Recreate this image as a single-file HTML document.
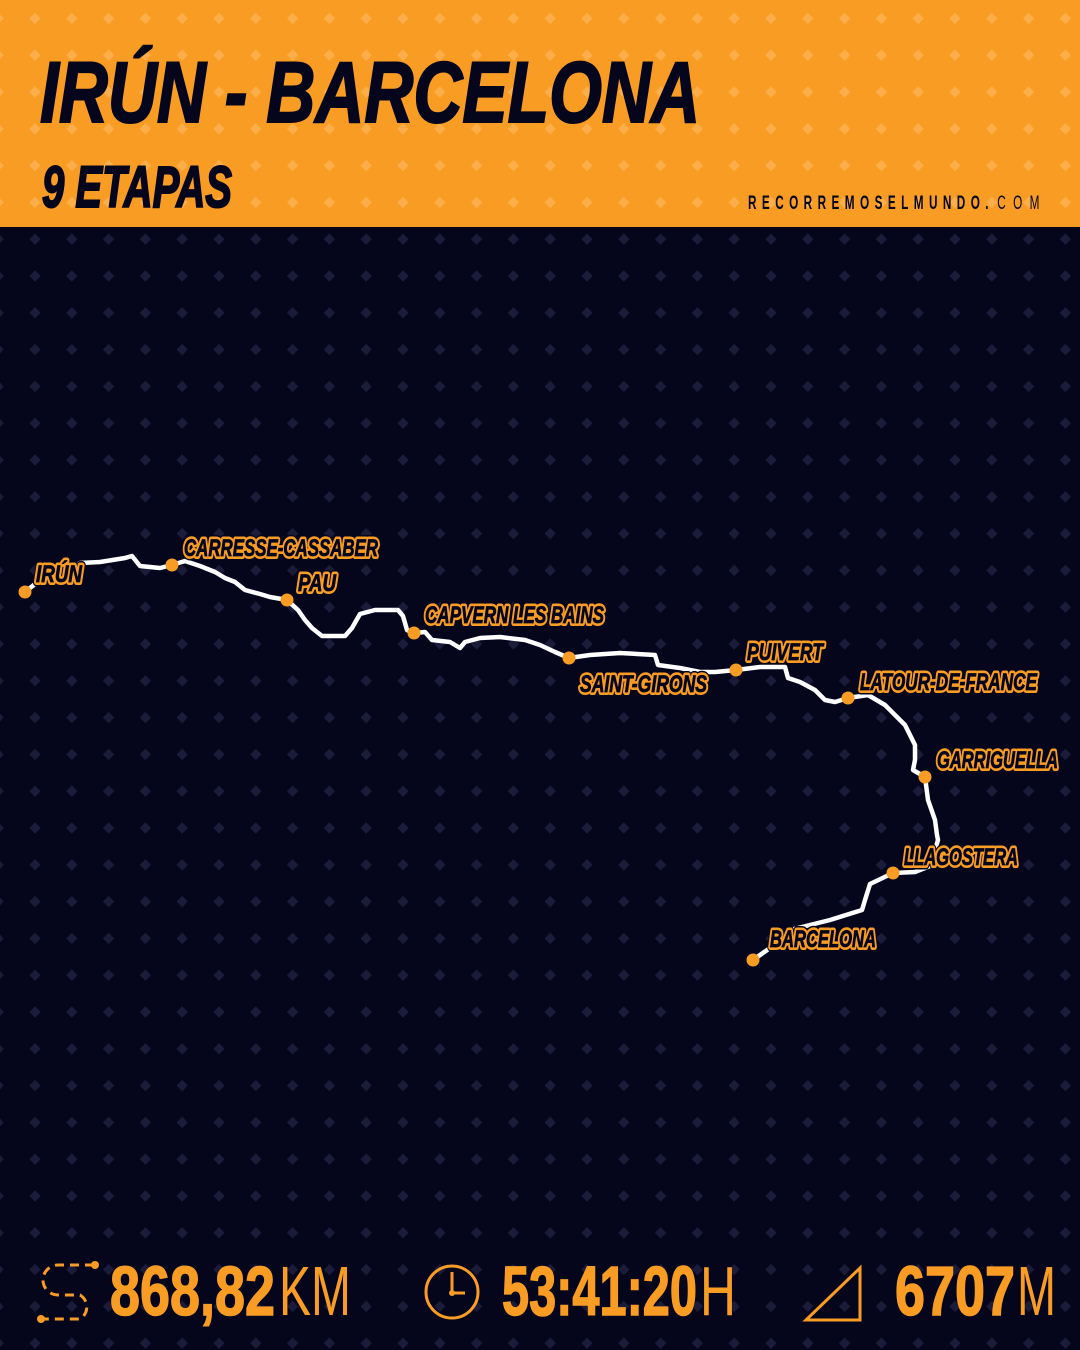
<!DOCTYPE html>
<html><head><meta charset="utf-8"><style>
html,body{margin:0;padding:0;background:#05051c;}
svg{display:block}
</style></head><body>
<svg width="1080" height="1350" viewBox="0 0 1080 1350" xmlns="http://www.w3.org/2000/svg">
<defs>
<pattern id="po" x="16.6" y="0" width="36.8" height="36.8" patternUnits="userSpaceOnUse">
<rect x="14.4" y="14.4" width="8" height="8" transform="rotate(45 18.4 18.4)" fill="#fbae4a"/>
</pattern>
<pattern id="pd" x="16.6" y="0" width="36.8" height="36.8" patternUnits="userSpaceOnUse">
<rect x="14.4" y="14.4" width="8" height="8" transform="rotate(45 18.4 18.4)" fill="#1b1b3a"/>
</pattern>
<g id="lbl">
<text x="36" y="582" textLength="46" lengthAdjust="spacingAndGlyphs">IRÚN</text>
<text x="184" y="556" textLength="194" lengthAdjust="spacingAndGlyphs">CARRESSE-CASSABER</text>
<text x="298" y="591" textLength="38" lengthAdjust="spacingAndGlyphs">PAU</text>
<text x="425" y="623" textLength="179" lengthAdjust="spacingAndGlyphs">CAPVERN LES BAINS</text>
<text x="580" y="692" textLength="127" lengthAdjust="spacingAndGlyphs">SAINT-GIRONS</text>
<text x="747" y="660" textLength="76" lengthAdjust="spacingAndGlyphs">PUIVERT</text>
<text x="860" y="690" textLength="177" lengthAdjust="spacingAndGlyphs">LATOUR-DE-FRANCE</text>
<text x="937" y="768" textLength="121" lengthAdjust="spacingAndGlyphs">GARRIGUELLA</text>
<text x="904" y="865" textLength="114" lengthAdjust="spacingAndGlyphs">LLAGOSTERA</text>
<text x="770" y="947" textLength="106" lengthAdjust="spacingAndGlyphs">BARCELONA</text>
</g>
</defs>
<rect width="1080" height="1350" fill="#05051c"/>
<rect width="1080" height="1350" fill="url(#pd)"/>
<rect width="1080" height="227" fill="#f99c24"/>
<rect width="1080" height="227" fill="url(#po)"/>

<g font-family="Liberation Sans, sans-serif" font-weight="bold" font-style="italic" fill="#05051c" stroke="#05051c" stroke-width="2">
<text x="40" y="122" font-size="86" textLength="660" lengthAdjust="spacingAndGlyphs">IRÚN - BARCELONA</text>
<text x="42" y="207" font-size="58" textLength="190" lengthAdjust="spacingAndGlyphs">9 ETAPAS</text>
</g>
<g transform="translate(748,209) scale(0.62,1)" font-family="Liberation Sans, sans-serif" font-size="19" fill="#05051c">
<text x="0" y="0" font-weight="bold" textLength="388" lengthAdjust="spacing">RECORREMOSELMUNDO.</text>
<text x="402" y="0" textLength="68" lengthAdjust="spacing">COM</text>
</g>

<polyline fill="none" stroke="#ffffff" stroke-width="4.5" stroke-linejoin="round" stroke-linecap="round" points="25,592 35,584 50,580 80,563 100,562 125,558 132,556 140,566 160,568 172,565 185,561 200,566 215,572 225,578 235,582 245,590 260,594 270,597 287,600 298,610 305,620 312,628 322,636 345,636 352,628 360,614 375,610 398,610 403,616 407,630 414,633 425,632 432,640 450,642 460,648 465,642 480,638 500,637 525,640 540,645 555,652 569,658 590,655 620,653 655,655 658,665 680,668 700,672 715,672 736,670 760,667 785,667 788,678 800,682 815,690 825,700 835,702 848,698 868,695 885,705 905,725 915,745 915,760 913,770 925,777 928,800 935,820 937,835 938,840 930,866 915,872 893,873 870,884 865,900 862,910 830,920 790,930 770,948 753,960"/>

<g fill="#f99c24">
<circle cx="25" cy="592" r="6.5"/><circle cx="172" cy="565" r="6.5"/><circle cx="287" cy="600" r="6.5"/>
<circle cx="414" cy="633" r="6.5"/><circle cx="569" cy="658" r="6.5"/><circle cx="736" cy="670" r="6.5"/>
<circle cx="848" cy="698" r="6.5"/><circle cx="925" cy="777" r="6.5"/><circle cx="893" cy="873" r="6.5"/>
<circle cx="753" cy="960" r="6.5"/>
</g>

<g font-family="Liberation Sans, sans-serif" font-weight="bold" font-style="italic" font-size="24">
<use href="#lbl" fill="#05051c" stroke="#05051c" stroke-width="9" stroke-linejoin="round"/>
<use href="#lbl" fill="#f99c24" stroke="#f99c24" stroke-width="6" stroke-linejoin="round"/>
<use href="#lbl" fill="#05051c" stroke="#05051c" stroke-width="0.8"/>
</g>

<!-- stats icons -->
<g fill="none" stroke="#f99c24" stroke-width="3">
<path d="M94,1265 H58 a14,14 0 0 0 0,30 H80 a14,14 0 0 1 0,24 H42" stroke-dasharray="9,6"/>
<circle cx="452" cy="1292" r="26"/>
<path d="M452,1272 V1293 H465"/>
<path d="M806,1320 L860,1268 V1320 Z"/>
</g>
<circle cx="95" cy="1265" r="4" fill="#f99c24"/>
<circle cx="41" cy="1319" r="4" fill="#f99c24"/>
<circle cx="452" cy="1293" r="3" fill="#f99c24"/>

<g font-family="Liberation Sans, sans-serif" font-size="70" fill="#f99c24">
<g font-weight="bold" stroke="#f99c24" stroke-width="1.5">
<text x="110" y="1315" textLength="165" lengthAdjust="spacingAndGlyphs">868,82</text>
<text x="502" y="1315" textLength="195" lengthAdjust="spacingAndGlyphs">53:41:20</text>
<text x="895" y="1315" textLength="120" lengthAdjust="spacingAndGlyphs">6707</text>
</g>
<text x="279" y="1315" textLength="72" lengthAdjust="spacingAndGlyphs">KM</text>
<text x="700" y="1315" textLength="36" lengthAdjust="spacingAndGlyphs">H</text>
<text x="1017" y="1315" textLength="39" lengthAdjust="spacingAndGlyphs">M</text>
</g>
</svg>
</body></html>
